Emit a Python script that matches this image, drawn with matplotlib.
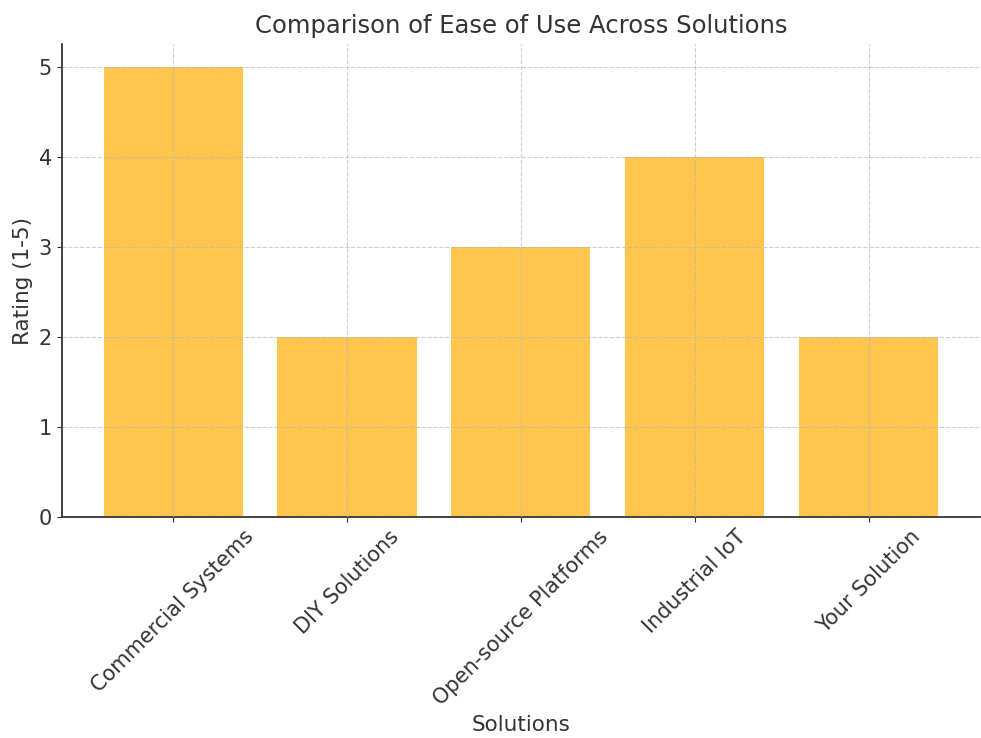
import matplotlib
matplotlib.use('Agg')
import matplotlib.pyplot as plt

solutions = ['Commercial Systems', 'DIY Solutions', 'Open-source Platforms',
             'Industrial IoT', 'Your Solution']
ratings = [5, 2, 3, 4, 2]

text_color = '#333333'
plt.rcParams['font.family'] = 'DejaVu Sans'
plt.rcParams['text.color'] = text_color
plt.rcParams['axes.labelcolor'] = text_color
plt.rcParams['xtick.color'] = text_color
plt.rcParams['ytick.color'] = text_color

fig, ax = plt.subplots(figsize=(9.81, 7.38), dpi=100)
fig.subplots_adjust(left=0.063, right=0.999, bottom=0.2995, top=0.940)

ax.bar(solutions, ratings, color='#FFC54D', width=0.8)

# dashed grid laid over the bars
ax.grid(True, linestyle='--', color='#b8b8b8', alpha=0.7, linewidth=0.8)
ax.set_axisbelow(False)

ax.spines['top'].set_visible(False)
ax.spines['right'].set_visible(False)
ax.spines['left'].set_color(text_color)
ax.spines['bottom'].set_color(text_color)
ax.spines['left'].set_linewidth(1.3)
ax.spines['bottom'].set_linewidth(1.3)

ax.set_title('Comparison of Ease of Use Across Solutions', fontsize=17.5,
             color=text_color, pad=8)
ax.set_xlabel('Solutions', fontsize=15.5)
ax.set_ylabel('Rating (1-5)', fontsize=15.5)
ax.tick_params(axis='both', labelsize=15)
plt.setp(ax.get_xticklabels(), rotation=45)

fig.savefig('out.png', dpi=100)
